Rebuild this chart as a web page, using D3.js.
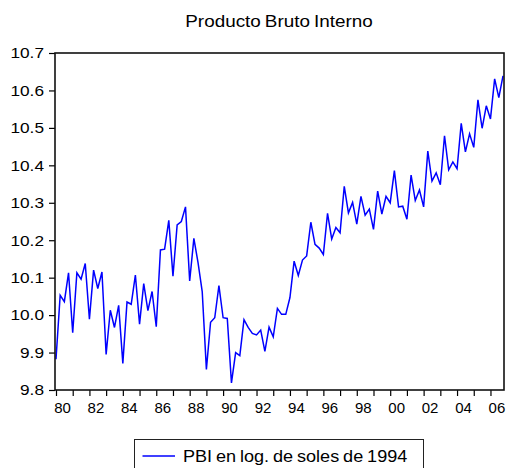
<!DOCTYPE html>
<html>
<head>
<meta charset="utf-8">
<script src="https://cdn.jsdelivr.net/npm/d3@7"></script>
<style>
  html, body { margin: 0; padding: 0; background: #fff; }
  svg { display: block; font-family: "Liberation Sans", Arial, sans-serif; }
</style>
</head>
<body>
<svg id="chart" width="508" height="468"></svg>
<script>
// ---- data ----
const title = "Producto Bruto Interno";
const seriesName = "PBI en log. de soles de 1994";
const firstYear = 1980;
// quarterly observations, 1980Q1 .. 2006Q4
const pbi = [
  9.882, 10.053, 10.036, 10.113,   // 1980
  9.953, 10.113, 10.096, 10.138,   // 1981
  9.989, 10.120, 10.071, 10.115,   // 1982
  9.895, 10.013, 9.967, 10.026,    // 1983
  9.871, 10.035, 10.029, 10.107,   // 1984
  9.976, 10.084, 10.012, 10.063,   // 1985
  9.969, 10.174, 10.176, 10.253,   // 1986
  10.104, 10.241, 10.250, 10.289,  // 1987
  10.091, 10.205, 10.140, 10.063,  // 1988
  9.855, 9.981, 9.993, 10.079,     // 1989
  9.993, 9.991, 9.819, 9.900,      // 1990
  9.892, 9.988, 9.967, 9.951,      // 1991
  9.947, 9.960, 9.903, 9.968,      // 1992
  9.942, 10.018, 10.002, 10.002,   // 1993
  10.047, 10.144, 10.106, 10.147,  // 1994
  10.158, 10.248, 10.189, 10.179,  // 1995
  10.162, 10.272, 10.203, 10.234,  // 1996
  10.220, 10.344, 10.273, 10.301,  // 1997
  10.243, 10.317, 10.267, 10.283,  // 1998
  10.229, 10.331, 10.270, 10.317,  // 1999
  10.300, 10.386, 10.289, 10.291,  // 2000
  10.256, 10.374, 10.306, 10.334,  // 2001
  10.289, 10.438, 10.358, 10.380,  // 2002
  10.348, 10.479, 10.388, 10.409,  // 2003
  10.391, 10.512, 10.436, 10.484,  // 2004
  10.448, 10.575, 10.499, 10.559,  // 2005
  10.524, 10.631, 10.581, 10.639   // 2006
];
const tickYears = [1980,1981,1982,1983,1984,1985,1986,1987,1988,1989,1990,1991,1992,1993,1994,1995,1996,1997,1998,1999,2000,2001,2002,2003,2004,2005,2006];
const labelYears = [1980,1982,1984,1986,1988,1990,1992,1994,1996,1998,2000,2002,2004,2006];
const labelTexts = ["80","82","84","86","88","90","92","94","96","98","00","02","04","06"];
const yTicks = [9.8, 9.9, 10.0, 10.1, 10.2, 10.3, 10.4, 10.5, 10.6, 10.7];
const yTickLabels = ["9.8","9.9","10.0","10.1","10.2","10.3","10.4","10.5","10.6","10.7"];

// ---- layout ----
const plot = { left: 55, top: 53, right: 504, bottom: 390 };
const svg = d3.select("#chart");

const x = d3.scaleLinear().domain([0, pbi.length - 1]).range([plot.left + 1, plot.right - 1]);
const y = d3.scaleLinear().domain([9.8, 10.7]).range([plot.bottom, plot.top]);
const yearIndex = yr => (yr - firstYear) * 4;

// title
svg.append("text")
  .attr("transform", "translate(279,27) scale(1.18,1)")
  .attr("text-anchor", "middle")
  .attr("font-size", 16)
  .attr("word-spacing", "-1px")
  .attr("fill", "#000")
  .text(title);

// y axis
const yAxis = d3.axisLeft(y)
  .tickValues(yTicks)
  .tickSize(6)
  .tickPadding(5)
  .tickFormat((d, i) => yTickLabels[i]);
const gy = svg.append("g")
  .attr("transform", `translate(${plot.left},0)`)
  .call(yAxis);
gy.select(".domain").remove();
gy.selectAll(".tick line").attr("stroke", "#000").attr("stroke-width", 1.2);
gy.selectAll(".tick text")
  .attr("x", 0)
  .attr("transform", "translate(-11,0) scale(1.15,1)")
  .attr("font-size", 15)
  .attr("font-family", "Liberation Sans, Arial, sans-serif")
  .attr("fill", "#000");

// x axis
const xAxis = d3.axisBottom(x)
  .tickValues(tickYears.map(yearIndex))
  .tickSize(6)
  .tickPadding(6)
  .tickFormat(d => {
    const yr = firstYear + d / 4;
    const k = labelYears.indexOf(yr);
    return k >= 0 ? labelTexts[k] : "";
  });
const gx = svg.append("g")
  .attr("transform", `translate(0,${plot.bottom})`)
  .call(xAxis);
gx.select(".domain").remove();
gx.selectAll(".tick line").attr("stroke", "#000").attr("stroke-width", 1.2);
gx.selectAll(".tick text")
  .attr("font-size", 15)
  .attr("font-family", "Liberation Sans, Arial, sans-serif")
  .attr("dx", 6)
  .attr("fill", "#000");

// series line
const line = d3.line()
  .x((d, i) => x(i))
  .y(d => y(d));
svg.append("path")
  .datum(pbi)
  .attr("d", line)
  .attr("fill", "none")
  .attr("stroke", "#0000ff")
  .attr("stroke-width", 1.5)
  .attr("stroke-linejoin", "miter");

// frame
svg.append("rect")
  .attr("x", plot.left).attr("y", plot.top)
  .attr("width", plot.right - plot.left)
  .attr("height", plot.bottom - plot.top)
  .attr("fill", "none")
  .attr("stroke", "#111")
  .attr("stroke-width", 1.6);

// legend
const lg = svg.append("g");
lg.append("rect")
  .attr("x", 134.5).attr("y", 439.5)
  .attr("width", 289).attr("height", 40)
  .attr("fill", "#fff")
  .attr("stroke", "#222")
  .attr("stroke-width", 1);
lg.append("line")
  .attr("x1", 142.5).attr("x2", 175)
  .attr("y1", 456).attr("y2", 456)
  .attr("stroke", "#0000ff")
  .attr("stroke-width", 1.4);
lg.append("text")
  .attr("transform", "translate(183,461.7) scale(1.13,1)")
  .attr("font-size", 16)
  .attr("word-spacing", "-1px")
  .attr("fill", "#000")
  .text(seriesName);
</script>
</body>
</html>
